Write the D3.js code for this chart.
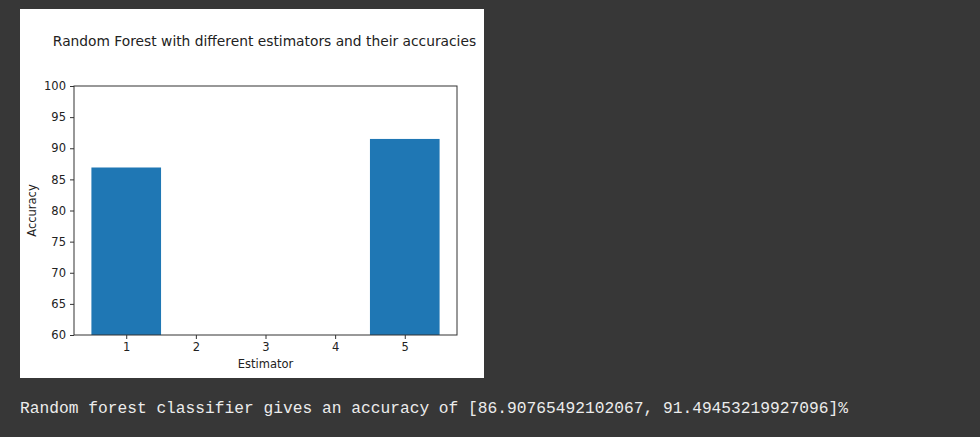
<!DOCTYPE html>
<html><head><meta charset="utf-8">
<script src="https://cdn.jsdelivr.net/npm/d3@7"></script>
<style>html,body{margin:0;padding:0;background:#373737;}svg{display:block;}</style>
</head><body>
<script>
const estimators = [1, 5];
const accuracies = [86.90765492102067, 91.49453219927096];
const xTicks = [1, 2, 3, 4, 5];
const yTicks = [60, 65, 70, 75, 80, 85, 90, 95, 100];
const title = "Random Forest with different estimators and their accuracies";
const outputText = "Random forest classifier gives an accuracy of [86.90765492102067, 91.49453219927096]%";

const W = 980, H = 437;
const svg = d3.select("body").append("svg").attr("width", W).attr("height", H);
svg.append("rect").attr("width", W).attr("height", H).attr("fill", "#373737");
// figure panel
svg.append("rect").attr("x", 20).attr("y", 9).attr("width", 464).attr("height", 369).attr("fill", "#ffffff");

const L = 74, R = 457, T = 86, B = 335;
const x = d3.scaleLinear().domain([0.25, 5.75]).range([L, R]);
const y = d3.scaleLinear().domain([60, 100]).range([B, T]);
const font = "'DejaVu Sans', sans-serif";

const g = svg.append("g");
g.selectAll("rect.bar").data(estimators).enter().append("rect")
  .attr("class", "bar")
  .attr("x", d => x(d - 0.5))
  .attr("width", d => x(d + 0.5) - x(d - 0.5))
  .attr("y", (d, i) => y(accuracies[i]))
  .attr("height", (d, i) => y(60) - y(accuracies[i]))
  .attr("fill", "#1f77b4");

// frame
g.append("rect").attr("x", L).attr("y", T).attr("width", R - L).attr("height", B - T)
  .attr("fill", "none").attr("stroke", "#333").attr("stroke-width", 1);

const xAxis = d3.axisBottom(x).tickValues(xTicks).tickSize(4).tickPadding(4).tickFormat(d3.format("d"));
const xa = svg.append("g").attr("transform", `translate(0,${B})`).call(xAxis);
const yAxis = d3.axisLeft(y).tickValues(yTicks).tickSize(4).tickPadding(4).tickFormat(d3.format("d"));
const ya = svg.append("g").attr("transform", `translate(${L},0)`).call(yAxis);
[xa, ya].forEach(a => {
  a.select(".domain").remove();
  a.selectAll("line").attr("stroke", "#333");
  a.selectAll("text").attr("fill", "#222").style("font-family", font).style("font-size", "11.5px");
});

svg.append("text").attr("x", (L + R) / 2).attr("y", 368).attr("text-anchor", "middle")
  .style("font-family", font).style("font-size", "11.5px").attr("fill", "#222").text("Estimator");
svg.append("text").attr("transform", `translate(36,${(T + B) / 2}) rotate(-90)`).attr("text-anchor", "middle")
  .style("font-family", font).style("font-size", "11.5px").attr("fill", "#222").text("Accuracy");
svg.append("text").attr("x", 264.5).attr("y", 46).attr("text-anchor", "middle")
  .style("font-family", font).style("font-size", "13.8px").attr("fill", "#222").text(title);

svg.append("text").attr("x", 20).attr("y", 413)
  .style("font-family", "'Liberation Mono', 'DejaVu Sans Mono', monospace").style("font-size", "16px")
  .attr("fill", "#ececec").attr("textLength", 828).attr("lengthAdjust", "spacingAndGlyphs").text(outputText);
</script>
</body></html>
